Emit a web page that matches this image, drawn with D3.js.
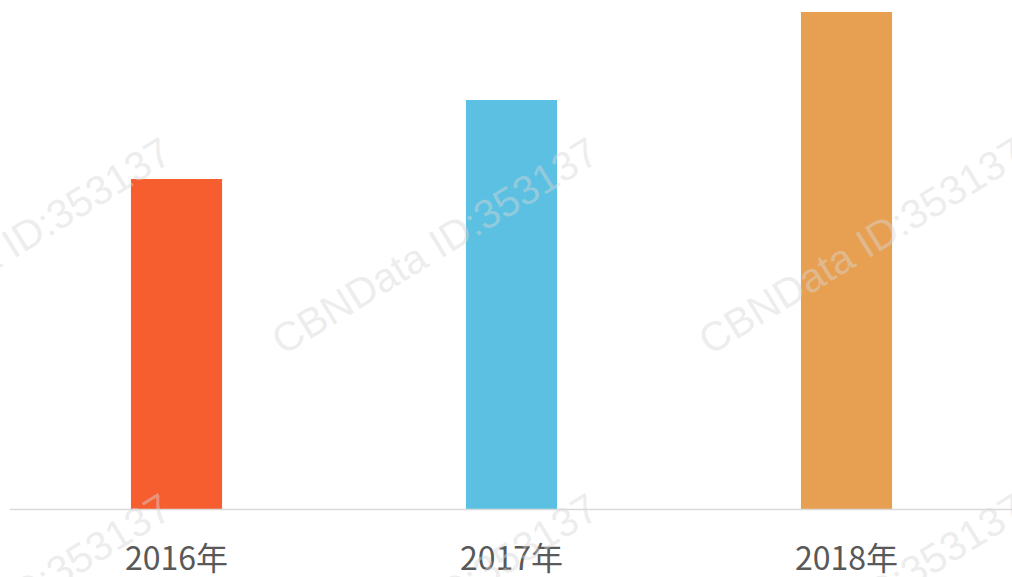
<!DOCTYPE html>
<html><head><meta charset="utf-8">
<script src="https://cdn.jsdelivr.net/npm/d3@7/dist/d3.min.js"></script>
<style>html,body{margin:0;padding:0;background:#fff;}svg{display:block;}</style>
</head><body>
<script>
const categories = ["2016年", "2017年", "2018年"];
const values = [3.30, 4.09, 4.97];
const colors = ["#f65d2f", "#5bc0e1", "#e7a052"];
const watermark = "CBNData ID:353137";

const W = 1012, H = 577;
const svg = d3.select("body").append("svg").attr("width", W).attr("height", H);

const x = d3.scaleBand().domain(categories).range([9, 1014]).paddingInner(0.728).paddingOuter(0.364);
const y = d3.scaleLinear().domain([0, 5]).range([509, 9]);

svg.selectAll("rect.bar").data(categories).enter().append("rect")
  .attr("class", "bar")
  .attr("x", d => x(d))
  .attr("width", x.bandwidth())
  .attr("y", (d, i) => y(values[i]))
  .attr("height", (d, i) => y(0) - y(values[i]))
  .attr("fill", (d, i) => colors[i]);

const axis = svg.append("g").attr("transform", "translate(0,509.5)")
  .call(d3.axisBottom(x).tickSize(0).tickPadding(0));
axis.select(".domain").attr("stroke", "#d9d9d9").attr("stroke-width", 1.6).attr("d", "M10,0H1012");
axis.selectAll("text")
  .attr("dy", 0).attr("y", 60)
  .attr("font-family", "'Noto Sans CJK SC', sans-serif")
  .attr("font-size", 32)
  .attr("fill", "#595959");

// watermarks
const wmPos = [];
[356, 712].forEach(yy => [-144, 283, 710].forEach(xx => wmPos.push([xx, yy])));
svg.append("g").selectAll("text").data(wmPos).enter().append("text")
  .attr("transform", d => `translate(${d[0]},${d[1]}) rotate(-31.6)`)
  .attr("font-family", "'Liberation Sans', Arial, sans-serif")
  .attr("font-size", 41)
  .attr("fill", "rgba(215,215,215,0.45)")
  .text(watermark);
</script>
</body></html>
